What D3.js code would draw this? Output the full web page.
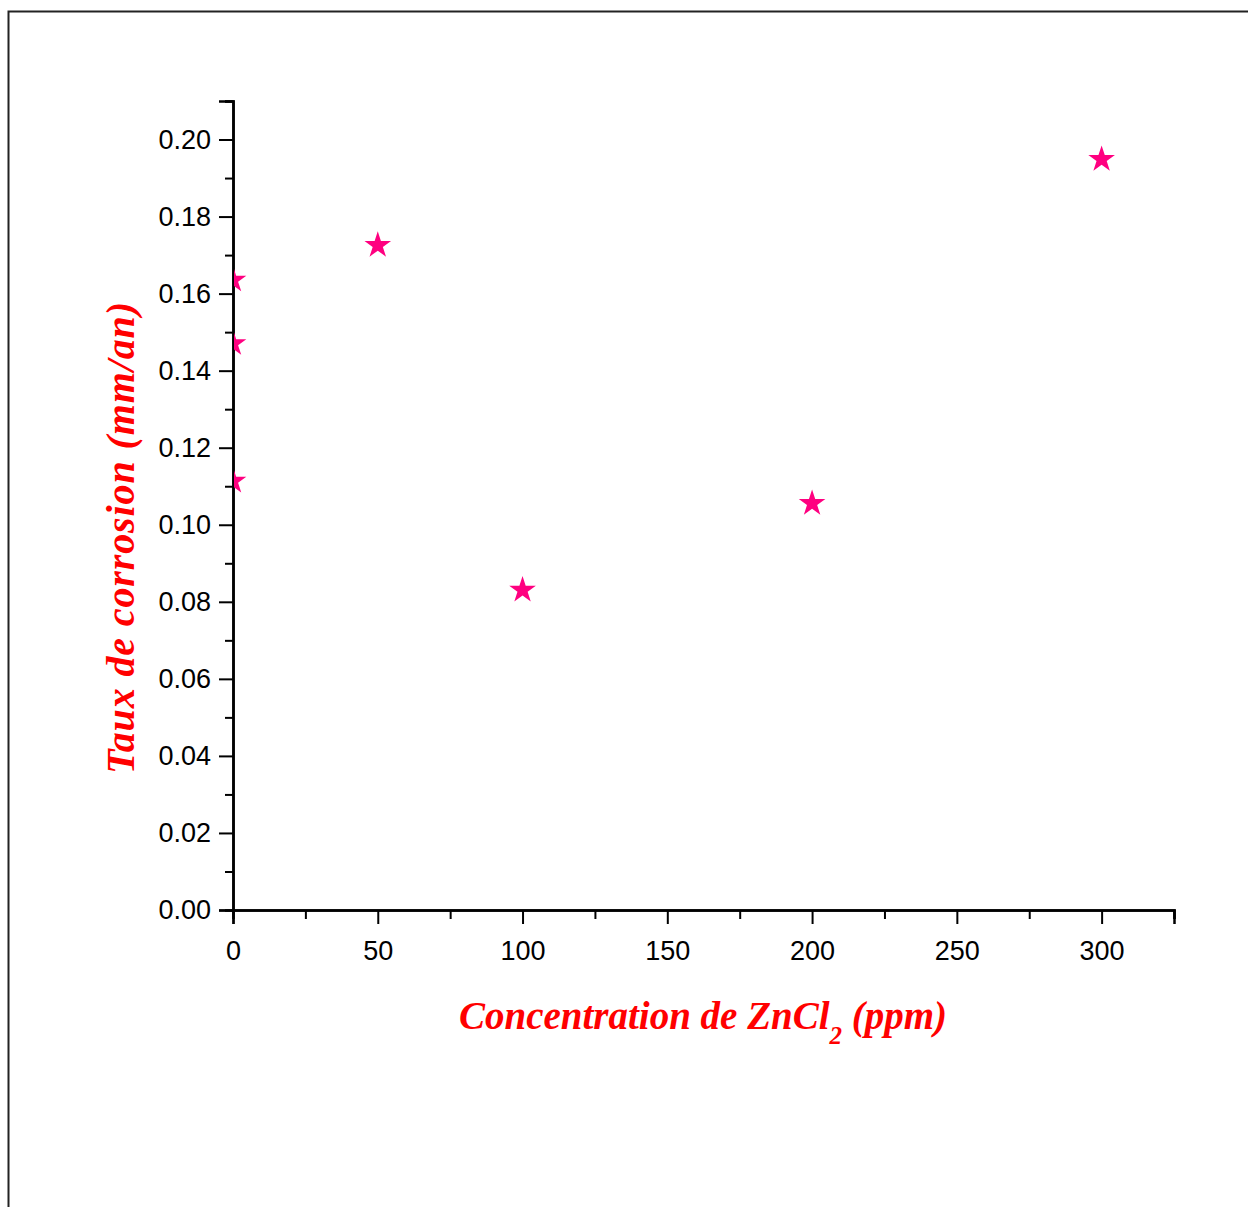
<!DOCTYPE html>
<html>
<head>
<meta charset="utf-8">
<script src="https://cdn.jsdelivr.net/npm/d3@7"></script>
<style>
  body { margin: 0; background: #fff; }
</style>
</head>
<body>
<div id="chart"></div>
<script>
// Concentration of ZnCl2 (ppm) and corrosion rate (mm/an)
const concentrations = [0, 0, 0, 50, 100, 200, 300];
const corrosionRates = [0.1638, 0.1473, 0.1116, 0.1728, 0.0833, 0.1058, 0.1951];
const xTicks = [0, 50, 100, 150, 200, 250, 300];
const yTicks = [0, 0.02, 0.04, 0.06, 0.08, 0.10, 0.12, 0.14, 0.16, 0.18, 0.20];

const W = 1248, H = 1207;
const margin = {top: 101, right: 74, bottom: 297, left: 233};
const width = W - margin.left - margin.right,
      height = H - margin.top - margin.bottom;

const svg = d3.select("#chart").append("svg")
    .attr("width", W)
    .attr("height", H);

// outer frame (only top and left edges inside the page)
svg.append("path")
    .attr("d", `M8.5,${H} L8.5,11.5 L${W},11.5`)
    .attr("fill", "none")
    .attr("stroke", "#222")
    .attr("stroke-width", 2);

const g = svg.append("g")
    .attr("transform", `translate(${margin.left},${margin.top})`);

const xScale = d3.scaleLinear().domain([0, 325]).range([0, width]);
const yScale = d3.scaleLinear().domain([0, 0.21]).range([height, 0]);

g.append("clipPath").attr("id", "plot-clip")
  .append("rect")
    .attr("x", 1).attr("y", -20)
    .attr("width", width + 20).attr("height", height + 19);

// minor ticks
const xAxisMinor = d3.axisBottom(xScale)
    .tickValues(d3.range(25, 326, 50))
    .tickSize(9).tickFormat("");
const yAxisMinor = d3.axisLeft(yScale)
    .tickValues(d3.range(1, 22, 2).map(v => v / 100))
    .tickSize(8).tickFormat("");

const xAxis = d3.axisBottom(xScale)
    .tickValues(xTicks).tickSize(14).tickPadding(17)
    .tickFormat(d3.format("d"));
const yAxis = d3.axisLeft(yScale)
    .tickValues(yTicks).tickSize(14).tickPadding(8)
    .tickFormat(d3.format(".2f"));

function styleAxis(sel) {
    sel.select(".domain").attr("stroke", "#000").attr("stroke-width", 2.5);
    sel.selectAll(".tick line").attr("stroke", "#000").attr("stroke-width", 2);
    sel.selectAll("text")
        .attr("fill", "#000")
        .style("font-family", "'Liberation Sans', Arial, sans-serif")
        .style("font-size", "27px");
}

g.append("g").attr("transform", `translate(0,${height})`).call(xAxisMinor).call(styleAxis);
g.append("g").call(yAxisMinor).call(styleAxis);
g.append("g").attr("transform", `translate(0,${height})`).call(xAxis).call(styleAxis);
g.append("g").call(yAxis).call(styleAxis);

// points
const star = d3.symbol().type(d3.symbolStar).size(220);
g.append("g").attr("clip-path", "url(#plot-clip)")
  .selectAll("path")
  .data(concentrations.map((c, i) => ({x: c, y: corrosionRates[i]})))
  .join("path")
    .attr("d", star)
    .attr("transform", d => `translate(${xScale(d.x)},${yScale(d.y) + 1})`)
    .attr("fill", "#ff0080");

// axis titles
const titleFont = "'Liberation Serif', 'Times New Roman', serif";
const xTitle = svg.append("text")
    .attr("x", 703).attr("y", 1029)
    .attr("text-anchor", "middle")
    .attr("fill", "#ff0000")
    .style("font-family", titleFont)
    .style("font-weight", "bold")
    .style("font-style", "italic")
    .style("font-size", "39px");
xTitle.append("tspan").text("Concentration de ZnCl");
xTitle.append("tspan").attr("dy", 15).style("font-size", "25px").text("2");
xTitle.append("tspan").attr("dy", -15).text(" (ppm)");

svg.append("text")
    .attr("transform", `translate(134,538) rotate(-90)`)
    .attr("text-anchor", "middle")
    .attr("fill", "#ff0000")
    .attr("textLength", 472)
    .attr("lengthAdjust", "spacing")
    .style("font-family", titleFont)
    .style("font-weight", "bold")
    .style("font-style", "italic")
    .style("font-size", "40px")
    .text("Taux de corrosion (mm/an)");
</script>
</body>
</html>
